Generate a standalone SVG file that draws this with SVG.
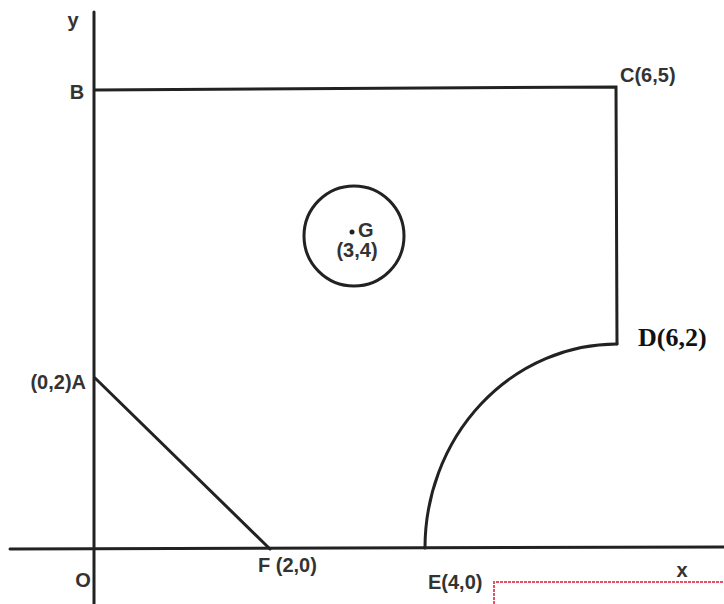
<svg xmlns="http://www.w3.org/2000/svg" width="724" height="604" viewBox="0 0 724 604">
<style>
.ln{fill:none;stroke:#222;stroke-width:3;stroke-linecap:round}
.lb{font-family:"Liberation Sans",Arial,sans-serif;font-size:20px;font-weight:bold;fill:#333}
.lbD{font-family:"Liberation Serif","Times New Roman",serif;font-size:26px;font-weight:bold;fill:#111}
</style>
<rect width="724" height="604" fill="#fff"/>
<g id="axes">
<line class="ln" x1="94" y1="12" x2="94" y2="604"/>
<line class="ln" x1="10" y1="549" x2="724" y2="547"/>
<text class="lb" x="73" y="27" text-anchor="middle">y</text>
<text class="lb" x="682" y="577" text-anchor="middle">x</text>
<text class="lb" x="83" y="587" text-anchor="middle">O</text>
</g>
<g id="connectors">
<path class="ln" d="M95,90 L616,87 L617,344"/>
<path class="ln" d="M425,548 A192 204 0 0 1 617,344"/>
<line class="ln" x1="95" y1="378" x2="270" y2="549"/>
</g>
<g id="B"><text class="lb" x="77" y="99" text-anchor="middle">B</text></g>
<g id="C"><text class="lb" x="620" y="82">C(6,5)</text></g>
<g id="D"><text class="lbD" x="638" y="346">D(6,2)</text></g>
<g id="A"><text class="lb" x="86" y="389" text-anchor="end">(0,2)A</text></g>
<g id="F"><text class="lb" x="258" y="572">F (2,0)</text></g>
<g id="E"><text class="lb" x="428" y="589">E(4,0)</text></g>
<g id="G">
<circle class="ln" cx="354" cy="236" r="50"/>
<circle cx="352" cy="232" r="2.5" fill="#222"/>
<text class="lb" x="358" y="237">G</text>
<text class="lb" x="357" y="257" text-anchor="middle">(3,4)</text>
</g>
<g id="redbox">
<path d="M494,604 L494,582 L724,582" fill="none" stroke="#e8506a" stroke-width="2" stroke-dasharray="3 1"/>
</g>
</svg>
